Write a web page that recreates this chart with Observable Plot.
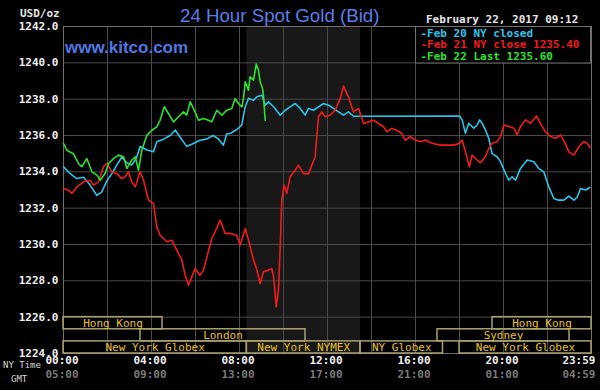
<!DOCTYPE html>
<html><head><meta charset="utf-8">
<script src="https://cdn.jsdelivr.net/npm/d3@7"></script>
<script src="https://cdn.jsdelivr.net/npm/@observablehq/plot@0.6"></script>
<style>
html,body{margin:0;padding:0;background:#000;}
#chart{width:600px;height:390px;}
</style></head><body><div id="chart"></div>
<script>
// ---- data (NY time in hours, price in USD/oz) ----
const feb20Hours = [0,0.30,0.61,0.91,1.21,1.52,1.74,1.97,2.2,2.42,2.65,2.88,3.1,3.33,3.48,3.79,4.09,4.24,4.55,4.85,5.08,5.3,5.6,5.9,6.2,6.5,6.8,7.05,7.27,7.42,7.58,7.88,8.1,8.26,8.41,8.64,8.79,9.02,9.17,9.32,9.55,9.85,10.08,10.3,10.53,10.76,10.98,11.14,11.36,11.59,11.82,12.05,12.27,12.5,12.73,12.95,13.18,18.0,18.12,18.27,18.42,18.65,18.8,18.92,19.03,19.18,19.33,19.48,19.71,19.86,20.09,20.24,20.39,20.55,20.77,21.08,21.38,21.6,21.83,22.06,22.29,22.5,22.74,22.97,23.2,23.35,23.5,23.73,23.92];
const feb20Values = [1234.28,1233.9,1233.63,1233.7,1233.27,1232.7,1232.9,1233.5,1233.9,1234.37,1234.8,1234.5,1234.37,1234.8,1235.4,1235.2,1235.1,1235.65,1235.8,1236.0,1236.3,1235.9,1235.4,1235.56,1235.74,1235.8,1236.0,1235.8,1235.47,1236.1,1236.11,1236.33,1236.57,1237.58,1238.04,1237.94,1238.13,1238.22,1237.67,1237.85,1237.58,1237.12,1237.39,1237.58,1237.76,1237.49,1237.12,1237.49,1237.39,1237.58,1237.76,1237.67,1237.49,1237.3,1237.12,1237.3,1237.06,1237.07,1236.86,1236.12,1236.67,1236.4,1236.58,1236.86,1236.67,1236.3,1235.85,1235.0,1234.83,1234.56,1233.91,1233.54,1233.73,1233.54,1234.19,1234.65,1234.56,1234.19,1234.0,1233.17,1232.53,1232.44,1232.44,1232.66,1232.44,1232.6,1233.08,1233.0,1233.14];

const feb21Hours = [0,0.23,0.38,0.61,0.91,1.21,1.36,1.59,1.82,1.97,2.2,2.42,2.65,2.8,2.95,3.1,3.26,3.48,3.64,3.86,4.09,4.24,4.39,4.7,4.92,5.15,5.38,5.53,5.68,5.83,5.98,6.2,6.36,6.52,6.74,6.89,7.12,7.35,7.58,7.88,8.03,8.26,8.41,8.64,8.79,8.94,9.09,9.32,9.47,9.55,9.67,9.77,9.85,9.92,10.03,10.15,10.3,10.53,10.68,10.91,11.14,11.29,11.44,11.59,11.74,11.89,12.12,12.35,12.58,12.73,12.95,13.18,13.41,13.64,13.86,14.09,14.32,14.55,14.7,14.92,15.15,15.38,15.53,15.76,16.0,16.23,16.45,16.68,16.9,17.14,17.44,17.74,18.0,18.12,18.27,18.45,18.57,18.8,18.95,19.18,19.33,19.48,19.71,19.86,20.02,20.24,20.47,20.62,20.77,21.0,21.23,21.5,21.68,21.9,22.14,22.36,22.6,22.8,22.97,23.2,23.42,23.65,23.8,23.92];
const feb21Values = [1233.08,1232.99,1232.81,1233.17,1233.45,1233.54,1233.27,1233.45,1234.28,1234.46,1234.0,1233.9,1233.63,1233.72,1234.0,1233.45,1233.17,1234.0,1233.54,1232.44,1232.26,1230.97,1230.51,1230.15,1230.24,1229.69,1229.14,1228.31,1227.76,1228.22,1228.68,1228.31,1228.59,1229.32,1230.33,1230.7,1231.34,1230.61,1230.61,1230.51,1229.96,1230.88,1230.24,1229.14,1228.59,1227.85,1228.5,1228.59,1228.68,1228.22,1226.57,1227.49,1229.87,1232.44,1233.27,1232.81,1233.72,1234.09,1234.37,1233.9,1233.9,1234.37,1234.83,1237.03,1237.3,1237.03,1237.12,1237.39,1238.04,1238.72,1238.13,1237.3,1237.49,1236.66,1236.75,1236.84,1236.66,1236.48,1236.2,1236.39,1236.29,1236.11,1235.74,1235.93,1235.75,1235.66,1235.75,1235.6,1235.53,1235.47,1235.47,1235.47,1235.57,1235.75,1235.1,1234.28,1234.92,1234.65,1234.5,1234.83,1235.29,1235.57,1235.66,1235.94,1236.58,1236.49,1236.4,1236.03,1236.49,1236.86,1236.67,1237.08,1236.67,1236.21,1235.94,1235.85,1236.03,1235.57,1235.1,1234.92,1235.38,1235.66,1235.57,1235.35];

const feb22Hours = [0,0.15,0.45,0.68,0.83,1.06,1.29,1.52,1.67,1.89,2.05,2.27,2.5,2.73,2.88,3.1,3.26,3.41,3.56,3.79,4.02,4.24,4.39,4.58,4.77,5.0,5.23,5.45,5.6,5.76,5.98,6.14,6.36,6.59,6.74,6.97,7.2,7.42,7.65,7.8,7.95,8.11,8.18,8.26,8.41,8.48,8.64,8.76,8.86,8.94,9.05,9.09,9.17];
const feb22Values = [1235.56,1235.19,1235.0,1234.46,1234.28,1234.73,1234.0,1233.82,1233.54,1233.91,1234.46,1234.73,1234.92,1234.83,1234.18,1234.64,1234.83,1234.09,1235.19,1236.02,1236.29,1236.48,1236.84,1237.58,1237.21,1236.75,1237.03,1237.3,1237.12,1237.85,1237.3,1236.84,1236.94,1236.84,1236.75,1237.39,1237.12,1237.39,1237.49,1238.04,1237.76,1237.58,1238.04,1238.95,1238.5,1239.23,1239.05,1239.93,1239.6,1238.95,1238.59,1238.13,1236.84];

const seriesLabels = ["Feb 20 NY closed", "Feb 21 NY close 1235.40", "Feb 22 Last 1235.60"];
const seriesColors = ["#2ec4ea", "#f01c1c", "#2fe02f"];

const yTicks = [1224,1226,1228,1230,1232,1234,1236,1238,1240,1242];
const gridHours = [0,2,4,6,8,10,12,14,16,18,20,22,24];
const tickHours = [0,4,8,12,16,20,24];
const nyTickLabels = ["00:00","04:00","08:00","12:00","16:00","20:00","23:59"];
const gmtTickLabels = ["05:00","09:00","13:00","17:00","21:00","01:00","04:59"];

const sessionNames = ["Hong Kong","London","New York Globex","New York NYMEX","NY Globex","Sydney","Hong Kong","New York Globex"];
const sessionStart = [0, 3.5, 0, 8.333, 13.5, 17, 19.5, 18];
const sessionEnd   = [4.5, 11, 8.333, 13.5, 17.25, 23, 24, 24];
const sessionRow   = [0, 1, 2, 2, 2, 1, 0, 2];

const nymexOpen = [8.333, 13.5];

// ---- build tables ----
const toRows = (hours, values) => hours.map((h, i) => ({hour: h, value: values[i]}));
const feb20 = toRows(feb20Hours, feb20Values);
const feb21 = toRows(feb21Hours, feb21Values);
const feb22 = toRows(feb22Hours, feb22Values);

const yMin = 1224, rowH = 2 / 3;
const sessions = sessionNames.map((n, i) => ({
  name: n, start: sessionStart[i], end: sessionEnd[i],
  top: yMin + 2 - sessionRow[i] * rowH, bottom: yMin + 2 - (sessionRow[i] + 1) * rowH
}));

const mono = "DejaVu Sans Mono";
const tickIdx = tickHours.map((h, i) => i);

const chart = Plot.plot({
  width: 600, height: 390,
  marginTop: 26, marginRight: 9, marginBottom: 37, marginLeft: 63,
  style: {background: "#000", color: "#fff", fontFamily: mono, fontSize: "11px"},
  x: {domain: [0, 24], axis: null},
  y: {domain: [1224, 1242], axis: null},
  marks: [
    Plot.rect([nymexOpen], {x1: d => d[0], x2: d => d[1], fill: "#181818"}),
    Plot.gridX({ticks: gridHours, stroke: "#4a4a4a", strokeOpacity: 1}),
    Plot.gridY({ticks: yTicks, stroke: "#4a4a4a", strokeOpacity: 1}),
    Plot.frame({stroke: "#707070"}),
    Plot.rect(sessions, {x1: "start", x2: "end", y1: "bottom", y2: "top", fill: "none", stroke: "#aaa070", strokeWidth: 1.5}),
    Plot.text(sessions, {x: d => (d.start + d.end) / 2, y: d => (d.top + d.bottom) / 2, text: "name", fill: "#e8c228", fontSize: 11}),
    Plot.line(feb20, {x: "hour", y: "value", stroke: seriesColors[0], strokeWidth: 1.6}),
    Plot.line(feb21, {x: "hour", y: "value", stroke: seriesColors[1], strokeWidth: 1.6}),
    Plot.line(feb22, {x: "hour", y: "value", stroke: seriesColors[2], strokeWidth: 1.6}),
    Plot.axisY({ticks: yTicks, tickSize: 0, tickPadding: 5, tickFormat: d => d.toFixed(1), fill: "#f0f0f0", fontSize: 11, fontWeight: "bold", fontFamily: mono}),
    Plot.text(tickIdx.slice(0, 6), {x: i => tickHours[i], frameAnchor: "bottom", dy: 10, dx: -1.5, text: i => nyTickLabels[i], fill: "#f0f0f0", fontWeight: "bold", fontSize: 11}),
    Plot.text(tickIdx.slice(6), {x: i => tickHours[i], frameAnchor: "bottom", dy: 10, dx: 4, textAnchor: "end", text: i => nyTickLabels[i], fill: "#f0f0f0", fontWeight: "bold", fontSize: 11}),
    Plot.text(tickIdx.slice(0, 6), {x: i => tickHours[i], frameAnchor: "bottom", dy: 24.5, dx: -1.5, text: i => gmtTickLabels[i], fill: "#7a7a7a", fontWeight: "bold", fontSize: 11}),
    Plot.text(tickIdx.slice(6), {x: i => tickHours[i], frameAnchor: "bottom", dy: 24.5, dx: 4, textAnchor: "end", text: i => gmtTickLabels[i], fill: "#7a7a7a", fontWeight: "bold", fontSize: 11})
  ]
});

const svg = d3.select(chart);
const addText = (x, y, txt, fill, family, size, weight) =>
  svg.append("text").attr("x", x).attr("y", y).attr("fill", fill)
    .attr("text-anchor", "start")
    .style("font-family", family).style("font-size", size).style("font-weight", weight)
    .text(txt);
const sans = "Liberation Sans, Arial, sans-serif";
addText(180, 21.7, "24 Hour Spot Gold (Bid)", "#5c7ee8", sans, "18.7px", "normal");
addText(65, 52.7, "www.kitco.com", "#5078e2", sans, "17px", "bold");
addText(426, 22.5, "February 22, 2017 09:12", "#e6e6e6", mono, "11px", "bold");
addText(20, 17, "USD/oz", "#e6e6e6", mono, "11px", "bold");
addText(3, 368, "NY Time", "#d8d8d8", mono, "9px", "normal");
addText(11, 382, "GMT", "#d8d8d8", mono, "9px", "normal");
// legend box
svg.append("rect").attr("x", 415.5).attr("y", 26.5).attr("width", 175).attr("height", 36.5)
  .attr("fill", "#000").attr("stroke", "#707070");
seriesLabels.forEach((lab, i) => {
  addText(420.5, 36.7 + i * 11.5, "-" + lab, seriesColors[i], mono, "11px", "bold");
});

document.getElementById("chart").appendChild(chart);
</script>
</body></html>
